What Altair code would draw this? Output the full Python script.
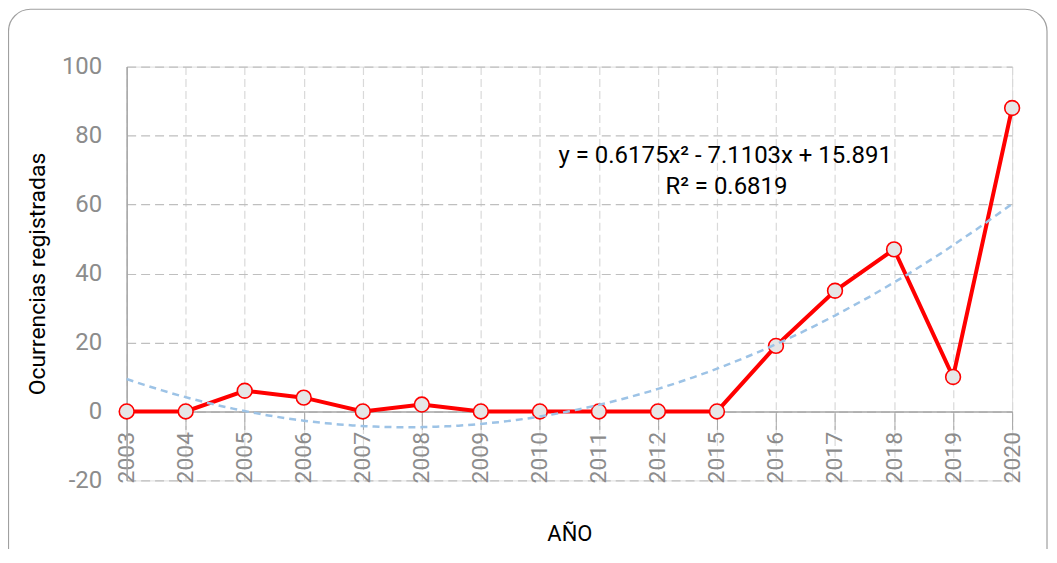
import altair as alt
import pandas as pd

years = ["2003", "2004", "2005", "2006", "2007", "2008", "2009", "2010",
         "2011", "2012", "2015", "2016", "2017", "2018", "2019", "2020"]
counts = [0, 0, 6, 4, 0, 2, 0, 0, 0, 0, 0, 19, 35, 47, 10, 88]
y_ticks = [-20, 0, 20, 40, 60, 80, 100]
eq_lines = ["y = 0.6175x² - 7.1103x + 15.891", "R² = 0.6819"]
eq_x = [11.14, 11.16]
eq_y = [74.0, 65.1]

W, H = 888, 415
Y_MIN, Y_MAX = -20, 100

df = pd.DataFrame({"idx": list(range(1, len(years) + 1)), "year": years, "count": counts})
df_eq = pd.DataFrame({"text": eq_lines, "ex": eq_x, "ey": eq_y})

label_expr = "[" + ",".join("'%s'" % y for y in years) + "][datum.value - 1]"
tick_font = "Roboto"
zero_offset = -H * (0 - Y_MIN) / (Y_MAX - Y_MIN)

x_scale = alt.Scale(domain=[1, len(years)], nice=False, zero=False)
y_scale = alt.Scale(domain=[Y_MIN, Y_MAX], nice=False, zero=False)

x_axis = alt.Axis(values=list(range(1, len(years) + 1)), labelExpr=label_expr,
                  title="AÑO", titleFontSize=22, titleFont="Roboto", titleColor="#000000",
                  titleFontWeight="normal", titlePadding=41,
                  labelAngle=270, labelFontSize=23, labelColor="#8C8C8C", labelFont=tick_font,
                  labelPadding=2, tickSize=18, tickColor="#A6A6A6", domainColor="#A6A6A6",
                  domainWidth=1.5, offset=zero_offset,
                  grid=True, gridColor="#D9D9D9", gridDash=[8, 4], gridWidth=1.2)
y_axis = alt.Axis(values=y_ticks, labelExpr="'' + datum.value",
                  title="Ocurrencias registradas", titleFontSize=23,
                  titleFont="Roboto", titleColor="#000000", titleFontWeight="normal",
                  titlePadding=12, labelFontSize=24, labelColor="#8C8C8C", labelFont=tick_font,
                  labelPadding=25, ticks=False, domainColor="#A6A6A6", domainWidth=1.5,
                  grid=True, gridColor="#BFBFBF", gridDash=[9, 5], gridWidth=1.2)

base = alt.Chart(df)

line = base.mark_line(color="#FF0000", strokeWidth=4).encode(
    x=alt.X("idx:Q", scale=x_scale, axis=x_axis),
    y=alt.Y("count:Q", scale=y_scale, axis=y_axis))

points = base.mark_point(shape="circle", filled=True, fill="#E6E6E6", stroke="#FF0000",
                         strokeWidth=1.6, size=220, opacity=1).encode(
    x="idx:Q", y="count:Q")

trend = base.transform_regression("idx", "count", method="poly", order=2,
                                  extent=[1, len(years)]).mark_line(
    color="#9DC3E6", strokeWidth=2.5, strokeDash=[7, 5]
).encode(x="idx:Q", y="count:Q")

eq = alt.Chart(df_eq).mark_text(font="Roboto", fontSize=24, color="#000000").encode(
    x="ex:Q", y="ey:Q", text="text:N")

frame = alt.Chart(alt.Data(values=[{}])).mark_rect(
    fill="transparent", stroke="#A0A0A0", strokeWidth=1.2, cornerRadius=22
).encode(x=alt.value(-118.5), x2=alt.value(923), y=alt.value(-57.5), y2=alt.value(520))

chart = alt.layer(frame, line, points, trend, eq).properties(
    width=W, height=H,
    padding={"left": 119, "top": 58, "right": 37, "bottom": 68},
    autosize=alt.AutoSizeParams(type="none"),
).configure_view(stroke=None).configure(background="#FFFFFF")

chart.save("out.html", embed_options={"renderer": "svg", "actions": False})
